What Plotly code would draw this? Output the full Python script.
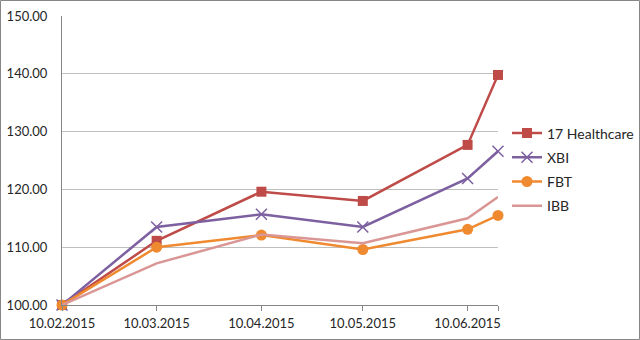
import plotly.graph_objects as go

dates = ["2015-02-10", "2015-03-10", "2015-04-10", "2015-05-10", "2015-06-10", "2015-06-19"]
tick_dates = ["2015-02-10", "2015-03-10", "2015-04-10", "2015-05-10", "2015-06-10", "2015-06-19"]
tick_labels = ["10.02.2015", "10.03.2015", "10.04.2015", "10.05.2015", "10.06.2015", ""]

healthcare17 = [100.0, 111.1, 119.6, 118.0, 127.7, 139.8]
xbi = [100.0, 113.5, 115.7, 113.5, 121.9, 126.6]
fbt = [100.0, 110.0, 112.1, 109.6, 113.1, 115.5]
ibb = [100.0, 107.2, 112.2, 110.7, 115.0, 118.7]

font_family = "Lato, 'Open Sans', sans-serif"

series = [
    ("17 Healthcare", healthcare17, "#BE4B48", dict(symbol="square", size=10)),
    ("XBI", xbi, "#7D60A0", dict(symbol="x-thin-open", size=11, line=dict(width=1.5, color="#7D60A0"))),
    ("FBT", fbt, "#F08A30", dict(symbol="circle", size=11)),
    ("IBB", ibb, "#D99694", None),
]

fig = go.Figure()
for i, (name, vals, color, marker) in enumerate(series):
    kw = dict(mode="lines+markers", marker=dict(color=color, **marker)) if marker else dict(mode="lines")
    fig.add_trace(go.Scatter(
        x=dates, y=vals, name=name, legendgroup=f"g{i}",
        line=dict(color=color, width=2.5),
        cliponaxis=False, **kw,
    ))

L, R, T, B = 62, 142, 16, 35
W, H = 640, 340
pw, ph = W - L - R, H - T - B

fig.update_layout(
    width=W, height=H,
    margin=dict(l=L, r=R, t=T, b=B, autoexpand=False),
    paper_bgcolor="white", plot_bgcolor="white",
    font=dict(family=font_family, size=13, color="#262626"),
    showlegend=True,
    legend=dict(x=(507 - L) / pw, y=(305 - 169.5) / ph, xanchor="left", yanchor="middle",
                font=dict(size=14, color="#262626"), tracegroupgap=3, itemwidth=30,
                bgcolor="rgba(0,0,0,0)"),
    xaxis=dict(type="date", range=[dates[0], dates[-1]],
               tickvals=tick_dates, ticktext=tick_labels,
               showgrid=False, showline=True, linecolor="#868686", linewidth=1,
               ticks="outside", ticklen=5, tickcolor="#868686", zeroline=False,
               ticklabelstandoff=1),
    yaxis=dict(range=[100, 150], dtick=10, tickformat=".2f",
               showgrid=True, gridcolor="#BFBFBF", gridwidth=1,
               showline=True, linecolor="#868686", linewidth=1,
               ticks="", zeroline=False, ticklabelstandoff=11),
    shapes=[dict(type="rect", xref="paper", yref="paper",
                 x0=(0.5 - L) / pw, x1=(W - 0.5 - L) / pw,
                 y0=-(B - 0.5) / ph, y1=1 + (T - 0.5) / ph,
                 line=dict(color="#868686", width=1), layer="below")],
)

fig.write_html("out.html")
